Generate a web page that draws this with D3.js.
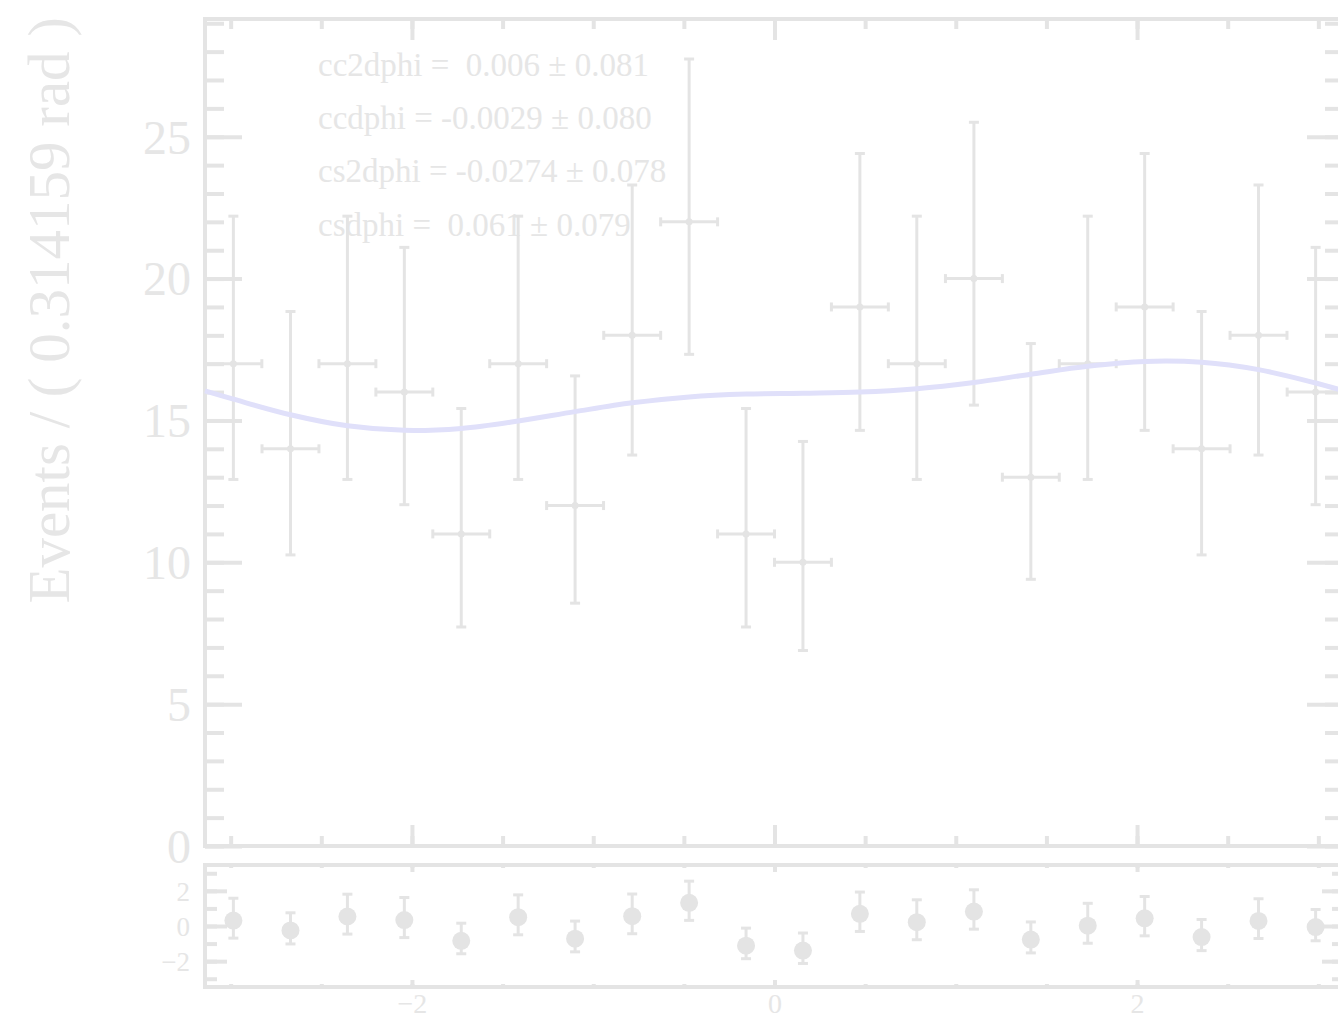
<!DOCTYPE html>
<html>
<head>
<meta charset="utf-8">
<script src="https://cdn.jsdelivr.net/npm/d3@7"></script>
<style>
  html, body { margin: 0; padding: 0; background: #ffffff; }
  svg { display: block; font-family: "Liberation Serif", "Times New Roman", serif; }
  .stat { white-space: pre; }
</style>
</head>
<body>
<svg id="chart" width="1338" height="1026"></svg>
<script>
// dphi binned in 20 bins of 0.314159 rad
const binCenters = [-2.985, -2.670, -2.356, -2.042, -1.728, -1.414, -1.100, -0.785, -0.471, -0.157,
                     0.157,  0.471,  0.785,  1.100,  1.414,  1.728,  2.042,  2.356,  2.670,  2.985];
const binHalfWidth = 0.157;
const counts  = [17, 14, 17, 16, 11, 17, 12, 18, 22, 11, 10, 19, 17, 20, 13, 17, 19, 14, 18, 16];
const errLo   = [4.08, 3.74, 4.08, 3.97, 3.28, 4.08, 3.44, 4.22, 4.67, 3.28, 3.11, 4.35, 4.08, 4.46, 3.60, 4.08, 4.35, 3.74, 4.22, 3.97];
const errHi   = [5.20, 4.84, 5.20, 5.10, 4.42, 5.20, 4.57, 5.30, 5.74, 4.42, 4.26, 5.41, 5.20, 5.51, 4.71, 5.20, 5.41, 4.84, 5.30, 5.10];

// fitted PDF sampled along dphi
const curvePhi = [-3.1416, -2.985, -2.670, -2.356, -2.042, -1.728, -1.414, -1.100, -0.785, -0.471, -0.157,
                   0.157,  0.471,  0.785,  1.100,  1.414,  1.728,  2.042,  2.356,  2.670,  2.985, 3.1416];
const curveVal = [16.04, 15.75, 15.20, 14.81, 14.65, 14.72, 14.98, 15.31, 15.62, 15.83, 15.93,
                  15.96, 16.00, 16.12, 16.34, 16.63, 16.91, 17.08, 17.05, 16.79, 16.32, 16.04];

// pulls and their error bars
const pulls     = [0.31, -0.25, 0.54, 0.34, -0.84, 0.50, -0.72, 0.56, 1.32, -1.12, -1.40, 0.69, 0.22, 0.82, -0.77, 0.02, 0.44, -0.63, 0.29, -0.06];
const pullErrLo = [1, 0.77, 1, 1, 0.74, 1, 0.75, 1, 1, 0.74, 0.73, 1, 1, 1, 0.76, 1, 1, 0.77, 1, 0.78];
const pullErrHi = [1.27, 1, 1.27, 1.28, 1, 1.27, 1, 1.26, 1.23, 1, 1, 1.24, 1.27, 1.24, 1, 1.27, 1.24, 1, 1.26, 1];

// fit parameters box
const paramLines = [
  "cc2dphi =  0.006 \u00b1 0.081",
  "ccdphi = -0.0029 \u00b1 0.080",
  "cs2dphi = -0.0274 \u00b1 0.078",
  "csdphi =  0.061 \u00b1 0.079"
];

const yTitle = "Events / ( 0.314159 rad )";
const mainMajorY = [0, 5, 10, 15, 20, 25];
const mainMinorY = d3.range(0, 30, 1);
const xMajor = [-2, 0, 2];
const xMinor = [-3, -2.5, -2, -1.5, -1, -0.5, 0, 0.5, 1, 1.5, 2, 2.5, 3];
const pullMajorY = [-2, 0, 2];
const pullMinorY = [-3, -2, -1, 0, 1, 2, 3];

const GRAY = "#e4e4e4";
const TEXT = "#e6e6e6";
const CURVE = "#e0e0fa";

const svg = d3.select("#chart");
svg.append("rect").attr("width", 1338).attr("height", 1026).attr("fill", "#fff");

const L = 205, R = 1344;
const main = { top: 19, bottom: 846 };
const pullP = { top: 865, bottom: 987 };

const x = d3.scaleLinear().domain([-Math.PI, Math.PI]).range([L, R]);
const y = d3.scaleLinear().domain([0, 29.15]).range([main.bottom, main.top]);
const yp = d3.scaleLinear().domain([-3.47, 3.47]).range([pullP.bottom, pullP.top]);

function styleAxis(g) {
  g.select(".domain").remove();
  g.selectAll(".tick line").attr("stroke", GRAY).attr("stroke-width", 4);
  g.selectAll(".tick text").attr("fill", TEXT).attr("font-family", "Liberation Serif, serif");
}

// ---------- parameter text (under the data) ----------
svg.append("g").selectAll("text").data(paramLines).join("text")
  .attr("class", "stat")
  .attr("x", 318)
  .attr("y", (d, i) => 76 + i * 53.2)
  .attr("font-size", 33)
  .attr("fill", TEXT)
  .text(d => d);

// ---------- main panel axes ----------
// left: minor then major with labels
svg.append("g").attr("transform", `translate(${L},0)`)
  .call(d3.axisLeft(y).tickValues(mainMinorY).tickSize(-19).tickFormat(""))
  .call(styleAxis);
svg.append("g").attr("transform", `translate(${L},0)`)
  .call(d3.axisLeft(y).tickValues(mainMajorY).tickSize(-37).tickPadding(14).tickFormat(d3.format("d")))
  .call(styleAxis)
  .call(g => g.selectAll(".tick text").attr("font-size", 48).attr("dy", "0.34em"));
// right
svg.append("g").attr("transform", `translate(${R},0)`)
  .call(d3.axisRight(y).tickValues(mainMinorY).tickSize(-19).tickFormat(""))
  .call(styleAxis);
svg.append("g").attr("transform", `translate(${R},0)`)
  .call(d3.axisRight(y).tickValues(mainMajorY).tickSize(-37).tickFormat(""))
  .call(styleAxis);
// bottom and top ticks (no labels)
[[d3.axisBottom, main.bottom], [d3.axisTop, main.top]].forEach(([ax, yy]) => {
  svg.append("g").attr("transform", `translate(0,${yy})`)
    .call(ax(x).tickValues(xMinor).tickSize(-10).tickFormat(""))
    .call(styleAxis);
  svg.append("g").attr("transform", `translate(0,${yy})`)
    .call(ax(x).tickValues(xMajor).tickSize(-21).tickFormat(""))
    .call(styleAxis);
});

// frame
svg.append("rect")
  .attr("x", L).attr("y", main.top).attr("width", R - L).attr("height", main.bottom - main.top)
  .attr("fill", "none").attr("stroke", GRAY).attr("stroke-width", 4);

// y title
svg.append("text")
  .attr("transform", "translate(69,17) rotate(-90)")
  .attr("text-anchor", "end")
  .attr("font-size", 59)
  .attr("fill", TEXT)
  .text(yTitle);

// ---------- data points ----------
const bins = binCenters.map((c, i) => ({ c, n: counts[i], lo: errLo[i], hi: errHi[i] }));
const dataG = svg.append("g").attr("stroke", GRAY).attr("stroke-width", 3).attr("fill", GRAY);
const pt = dataG.selectAll("g").data(bins).join("g");
pt.append("line")
  .attr("x1", d => x(d.c)).attr("x2", d => x(d.c))
  .attr("y1", d => y(d.n - d.lo)).attr("y2", d => y(d.n + d.hi));
pt.append("line")
  .attr("x1", d => x(d.c - binHalfWidth)).attr("x2", d => x(d.c + binHalfWidth))
  .attr("y1", d => y(d.n)).attr("y2", d => y(d.n));
// caps on vertical bars
pt.append("line")
  .attr("x1", d => x(d.c) - 5).attr("x2", d => x(d.c) + 5)
  .attr("y1", d => y(d.n + d.hi)).attr("y2", d => y(d.n + d.hi));
pt.append("line")
  .attr("x1", d => x(d.c) - 5).attr("x2", d => x(d.c) + 5)
  .attr("y1", d => y(d.n - d.lo)).attr("y2", d => y(d.n - d.lo));
// caps on horizontal bars
pt.append("line")
  .attr("x1", d => x(d.c - binHalfWidth)).attr("x2", d => x(d.c - binHalfWidth))
  .attr("y1", d => y(d.n) - 4.5).attr("y2", d => y(d.n) + 4.5);
pt.append("line")
  .attr("x1", d => x(d.c + binHalfWidth)).attr("x2", d => x(d.c + binHalfWidth))
  .attr("y1", d => y(d.n) - 4.5).attr("y2", d => y(d.n) + 4.5);
pt.append("circle")
  .attr("cx", d => x(d.c)).attr("cy", d => y(d.n)).attr("r", 3.5).attr("stroke", "none");

// ---------- fit curve ----------
const curvePts = curvePhi.map((p, i) => [p, curveVal[i]]);
svg.append("path")
  .datum(curvePts)
  .attr("fill", "none")
  .attr("stroke", CURVE)
  .attr("stroke-width", 5)
  .attr("d", d3.line().x(d => x(d[0])).y(d => y(d[1])).curve(d3.curveCatmullRom));

// ---------- pull panel ----------
svg.append("g").attr("transform", `translate(${L},0)`)
  .call(d3.axisLeft(yp).tickValues(pullMinorY).tickSize(-12).tickFormat(""))
  .call(styleAxis);
svg.append("g").attr("transform", `translate(${L},0)`)
  .call(d3.axisLeft(yp).tickValues(pullMajorY).tickSize(-22).tickPadding(15)
        .tickFormat(d => d < 0 ? "\u2212" + Math.abs(d) : String(d)))
  .call(styleAxis)
  .call(g => g.selectAll(".tick text").attr("font-size", 27).attr("dy", "0.36em"));
svg.append("g").attr("transform", `translate(${R},0)`)
  .call(d3.axisRight(yp).tickValues(pullMinorY).tickSize(-12).tickFormat(""))
  .call(styleAxis);
svg.append("g").attr("transform", `translate(${R},0)`)
  .call(d3.axisRight(yp).tickValues(pullMajorY).tickSize(-22).tickFormat(""))
  .call(styleAxis);
[[d3.axisBottom, pullP.bottom], [d3.axisTop, pullP.top]].forEach(([ax, yy]) => {
  svg.append("g").attr("transform", `translate(0,${yy})`)
    .call(ax(x).tickValues(xMinor).tickSize(-3).tickFormat(""))
    .call(styleAxis);
  svg.append("g").attr("transform", `translate(0,${yy})`)
    .call(ax(x).tickValues(xMajor).tickSize(-7).tickFormat(""))
    .call(styleAxis);
});
// x labels under pull panel
svg.append("g").attr("transform", `translate(0,${pullP.bottom})`)
  .call(d3.axisBottom(x).tickValues(xMajor).tickSize(0).tickPadding(0)
        .tickFormat(d => d < 0 ? "\u2212" + Math.abs(d) : String(d)))
  .call(styleAxis)
  .call(g => g.selectAll(".tick text").attr("font-size", 28).attr("dy", null).attr("y", 26));

svg.append("rect")
  .attr("x", L).attr("y", pullP.top).attr("width", R - L).attr("height", pullP.bottom - pullP.top)
  .attr("fill", "none").attr("stroke", GRAY).attr("stroke-width", 4);

const pullData = binCenters.map((c, i) => ({ c, p: pulls[i], lo: pullErrLo[i], hi: pullErrHi[i] }));
const pg = svg.append("g").attr("stroke", GRAY).attr("stroke-width", 3).attr("fill", GRAY)
  .selectAll("g").data(pullData).join("g");
pg.append("line")
  .attr("x1", d => x(d.c)).attr("x2", d => x(d.c))
  .attr("y1", d => yp(d.p - d.lo)).attr("y2", d => yp(d.p + d.hi));
pg.append("line")
  .attr("x1", d => x(d.c) - 5).attr("x2", d => x(d.c) + 5)
  .attr("y1", d => yp(d.p + d.hi)).attr("y2", d => yp(d.p + d.hi));
pg.append("line")
  .attr("x1", d => x(d.c) - 5).attr("x2", d => x(d.c) + 5)
  .attr("y1", d => yp(d.p - d.lo)).attr("y2", d => yp(d.p - d.lo));
pg.append("circle")
  .attr("cx", d => x(d.c)).attr("cy", d => yp(d.p)).attr("r", 9).attr("stroke", "none");
</script>
</body>
</html>
